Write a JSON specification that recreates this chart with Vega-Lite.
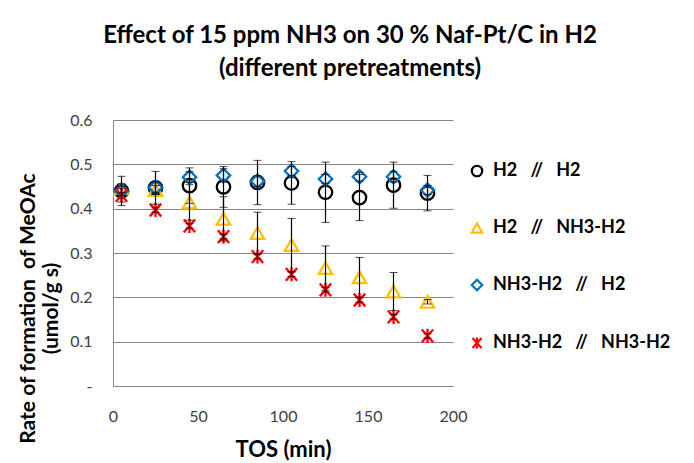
{
  "$schema": "https://vega.github.io/schema/vega-lite/v6.json",
  "autosize": "none",
  "width": 340,
  "height": 266,
  "padding": {"left": 113, "top": 120, "right": 241, "bottom": 77},
  "background": "white",
  "config": {
    "view": {"stroke": null},
    "font": "Lato"
  },
  "title": {
    "text": ["Effect of 15 ppm NH3 on 30 % Naf-Pt/C in H2", "(different pretreatments)"],
    "anchor": "middle",
    "dx": 67,
    "offset": 31,
    "font": "Lato",
    "fontSize": 24,
    "fontWeight": "bold",
    "lineHeight": 33,
    "color": "#000000"
  },
  "data": {
    "values": [
      {"series": "H2 // H2", "t": 5, "y": 0.440, "err": 0.033},
      {"series": "H2 // H2", "t": 25, "y": 0.447, "err": 0.037},
      {"series": "H2 // H2", "t": 45, "y": 0.452, "err": 0.040},
      {"series": "H2 // H2", "t": 65, "y": 0.449, "err": 0.046},
      {"series": "H2 // H2", "t": 85, "y": 0.459, "err": 0.050},
      {"series": "H2 // H2", "t": 105, "y": 0.458, "err": 0.048},
      {"series": "H2 // H2", "t": 125, "y": 0.437, "err": 0.068},
      {"series": "H2 // H2", "t": 145, "y": 0.425, "err": 0.052},
      {"series": "H2 // H2", "t": 165, "y": 0.453, "err": 0.052},
      {"series": "H2 // H2", "t": 185, "y": 0.435, "err": 0.040},
      {"series": "H2 // NH3-H2", "t": 5, "y": 0.446, "err": 0.010},
      {"series": "H2 // NH3-H2", "t": 25, "y": 0.442, "err": 0.010},
      {"series": "H2 // NH3-H2", "t": 45, "y": 0.414, "err": 0.040},
      {"series": "H2 // NH3-H2", "t": 65, "y": 0.377, "err": 0.050},
      {"series": "H2 // NH3-H2", "t": 85, "y": 0.345, "err": 0.047},
      {"series": "H2 // NH3-H2", "t": 105, "y": 0.318, "err": 0.060},
      {"series": "H2 // NH3-H2", "t": 125, "y": 0.266, "err": 0.050},
      {"series": "H2 // NH3-H2", "t": 145, "y": 0.245, "err": 0.045},
      {"series": "H2 // NH3-H2", "t": 165, "y": 0.213, "err": 0.043},
      {"series": "H2 // NH3-H2", "t": 185, "y": 0.190, "err": 0.005},
      {"series": "NH3-H2 // H2", "t": 5, "y": 0.440, "err": 0.010},
      {"series": "NH3-H2 // H2", "t": 25, "y": 0.448, "err": 0.012},
      {"series": "NH3-H2 // H2", "t": 45, "y": 0.471, "err": 0.012},
      {"series": "NH3-H2 // H2", "t": 65, "y": 0.475, "err": 0.015},
      {"series": "NH3-H2 // H2", "t": 85, "y": 0.462, "err": 0.012},
      {"series": "NH3-H2 // H2", "t": 105, "y": 0.485, "err": 0.010},
      {"series": "NH3-H2 // H2", "t": 125, "y": 0.467, "err": 0.010},
      {"series": "NH3-H2 // H2", "t": 145, "y": 0.472, "err": 0.010},
      {"series": "NH3-H2 // H2", "t": 165, "y": 0.472, "err": 0.012},
      {"series": "NH3-H2 // H2", "t": 185, "y": 0.442, "err": 0.010},
      {"series": "NH3-H2 // NH3-H2", "t": 5, "y": 0.430, "err": 0.015},
      {"series": "NH3-H2 // NH3-H2", "t": 25, "y": 0.397, "err": 0.005},
      {"series": "NH3-H2 // NH3-H2", "t": 45, "y": 0.361, "err": 0.005},
      {"series": "NH3-H2 // NH3-H2", "t": 65, "y": 0.337, "err": 0.005},
      {"series": "NH3-H2 // NH3-H2", "t": 85, "y": 0.292, "err": 0.005},
      {"series": "NH3-H2 // NH3-H2", "t": 105, "y": 0.252, "err": 0.005},
      {"series": "NH3-H2 // NH3-H2", "t": 125, "y": 0.217, "err": 0.005},
      {"series": "NH3-H2 // NH3-H2", "t": 145, "y": 0.194, "err": 0.005},
      {"series": "NH3-H2 // NH3-H2", "t": 165, "y": 0.156, "err": 0.005},
      {"series": "NH3-H2 // NH3-H2", "t": 185, "y": 0.113, "err": 0.005}
    ]
  },
  "encoding": {
    "x": {
      "field": "t",
      "type": "quantitative",
      "scale": {"domain": [0, 200], "nice": false},
      "axis": {
        "title": "TOS (min)",
        "values": [0, 50, 100, 150, 200],
        "grid": false,
        "ticks": false,
        "tickSize": 0,
        "labelFlush": false,
        "domainColor": "#868686",
        "domainWidth": 1,
        "labelFont": "Lato",
        "labelFontSize": 16,
        "labelColor": "#404040",
        "labelPadding": 22,
        "titleFont": "Lato",
        "titleFontSize": 22,
        "titleFontWeight": "bold",
        "titleColor": "#000000",
        "titlePadding": 15
      }
    },
    "y": {
      "field": "y",
      "type": "quantitative",
      "scale": {"domain": [0, 0.6], "nice": false},
      "axis": {
        "title": ["Rate of formation\u00a0\u00a0of MeOAc", "(umol/g s)"],
        "values": [0, 0.1, 0.2, 0.3, 0.4, 0.5, 0.6],
        "labelExpr": "datum.value == 0 ? '-' : format(datum.value, '.1f')",
        "labelFlush": false,
        "grid": true,
        "gridColor": "#868686",
        "gridWidth": 1,
        "ticks": false,
        "tickSize": 0,
        "domainColor": "#868686",
        "domainWidth": 1,
        "labelFont": "Lato",
        "labelFontSize": 16,
        "labelColor": "#404040",
        "labelPadding": 21,
        "titleFont": "Lato",
        "titleFontSize": 21,
        "titleFontWeight": "bold",
        "titleColor": "#000000",
        "titleAngle": -90,
        "titleAlign": "center",
        "titleBaseline": "bottom",
        "titleLineHeight": 23,
        "titleX": -75,
        "titleY": 188
      }
    }
  },
  "layer": [
    {
      "mark": {"type": "point", "filled": false, "strokeWidth": 2.3, "size": 180, "opacity": 1},
      "encoding": {
        "color": {
          "field": "series",
          "type": "nominal",
          "scale": {
            "domain": ["H2 // H2", "H2 // NH3-H2", "NH3-H2 // H2", "NH3-H2 // NH3-H2"],
            "range": ["#000000", "#FFC000", "#0070C0", "#FF0000"]
          },
          "legend": {
            "title": null,
            "orient": "none",
            "legendX": 355,
            "legendY": 42,
            "labelFont": "Lato",
            "labelFontSize": 18,
            "labelFontWeight": "bold",
            "labelColor": "#000000",
            "labelOffset": 7,
            "labelLimit": 0,
            "labelExpr": "replace(datum.label, ' // ', '\u00a0\u00a0 //\u00a0\u00a0 ')",
            "rowPadding": 38,
            "symbolSize": 110,
            "symbolStrokeWidth": 2.2,
            "symbolFillColor": "transparent"
          }
        },
        "shape": {
          "field": "series",
          "type": "nominal",
          "scale": {
            "domain": ["H2 // H2", "H2 // NH3-H2", "NH3-H2 // H2", "NH3-H2 // NH3-H2"],
            "range": ["circle", "triangle-up", "diamond", "M-0.85,-0.95L0.85,0.95M-0.85,0.95L0.85,-0.95M0,-1.05L0,1.05"]
          }
        },
        "order": {"field": "series"}
      }
    },
    {
      "mark": {"type": "errorbar", "ticks": {"size": 8, "color": "#000000"}, "rule": {"color": "#000000", "strokeWidth": 1.2}},
      "encoding": {
        "yError": {"field": "err"}
      }
    }
  ]
}
